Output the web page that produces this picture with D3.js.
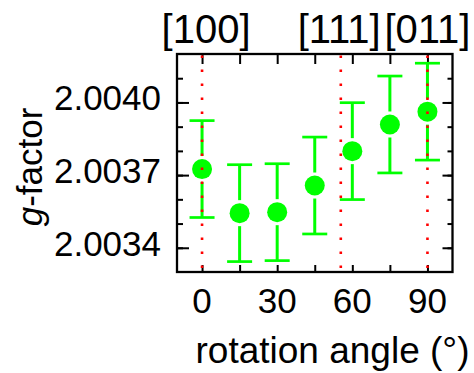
<!DOCTYPE html>
<html>
<head>
<meta charset="utf-8">
<script src="https://cdn.jsdelivr.net/npm/d3@7"></script>
<style>
  html, body { margin: 0; padding: 0; background: #fff; }
  svg { display: block; font-family: "Liberation Sans", Arial, sans-serif; }
</style>
</head>
<body>
<svg id="chart" width="474" height="373"></svg>
<script>
// Rotation angle of the sample (degrees) and measured g-factor with its uncertainty
const angles = [0, 15, 30, 45, 60, 75, 90];
const gValues = [2.003725, 2.003543, 2.003547, 2.003657, 2.003799, 2.003909, 2.003962];
const gErrors = [0.0002, 0.0002, 0.0002, 0.0002, 0.0002, 0.0002, 0.0002];

// Crystal directions marked along the top of the plot
const directionLabels = ["[100]", "[111]", "[011]"];
const directionAngles = [0, 54.74, 90];
const directionLines = [0, 55.4, 90];

// Axis ticks
const xTickValues = [0, 15, 30, 45, 60, 75, 90];
const xTickLabels = ["0", "30", "60", "90"];
const yMajorTicks = [2.0034, 2.0037, 2.0040];
const yMinorTicks = [2.0034, 2.0035, 2.0036, 2.0037, 2.0038, 2.0039, 2.0040, 2.0041];

const svg = d3.select("#chart");
const plotLeft = 177, plotRight = 452.5, plotTop = 54, plotBottom = 272;

const x = d3.scaleLinear().domain([-10, 100]).range([plotLeft, plotRight]);
const y = d3.scaleLinear().domain([2.0033, 2.0042]).range([plotBottom, plotTop]);

const green = "#00ff00";
const fmtY = d3.format(".4f");

// Axes with inward ticks on all four sides
function styleAxis(g) {
  g.select(".domain").remove();
  g.selectAll(".tick line").attr("stroke", "#000").attr("stroke-width", 2);
  g.selectAll(".tick text").remove();
}
svg.append("g").attr("transform", `translate(${plotLeft},0)`)
  .call(d3.axisLeft(y).tickValues(yMinorTicks).tickSize(-6)).call(styleAxis);
svg.append("g").attr("transform", `translate(${plotLeft},0)`)
  .call(d3.axisLeft(y).tickValues(yMajorTicks).tickSize(-12)).call(styleAxis);
svg.append("g").attr("transform", `translate(${plotRight},0)`)
  .call(d3.axisRight(y).tickValues(yMinorTicks).tickSize(-5)).call(styleAxis);
svg.append("g").attr("transform", `translate(${plotRight},0)`)
  .call(d3.axisRight(y).tickValues(yMajorTicks).tickSize(-10)).call(styleAxis);
svg.append("g").attr("transform", `translate(0,${plotBottom})`)
  .call(d3.axisBottom(x).tickValues(xTickValues).tickSize(-7)).call(styleAxis);
svg.append("g").attr("transform", `translate(0,${plotTop})`)
  .call(d3.axisTop(x).tickValues(xTickValues).tickSize(-10)).call(styleAxis);

// Frame
svg.append("rect")
  .attr("x", plotLeft).attr("y", plotTop)
  .attr("width", plotRight - plotLeft).attr("height", plotBottom - plotTop)
  .attr("fill", "none").attr("stroke", "#000").attr("stroke-width", 2.3);

// Tick labels
svg.append("g").selectAll("text").data(yMajorTicks).join("text")
  .attr("x", plotLeft - 16).attr("y", d => y(d) + 8)
  .attr("text-anchor", "end").attr("font-size", 35)
  .text(d => fmtY(d));
svg.append("g").selectAll("text").data(xTickLabels).join("text")
  .attr("x", d => x(+d)).attr("y", 313)
  .attr("text-anchor", "middle").attr("font-size", 35)
  .text(d => d);

// Axis titles
svg.append("text")
  .attr("x", 332.5).attr("y", 363)
  .attr("text-anchor", "middle").attr("font-size", 37)
  .text("rotation angle (°)");
const yTitle = svg.append("text")
  .attr("transform", `translate(42,167) rotate(-90)`)
  .attr("text-anchor", "middle").attr("font-size", 35);
yTitle.append("tspan").attr("font-style", "italic").text("g");
yTitle.append("tspan").text("-factor");

// Direction labels
svg.append("g").selectAll("text").data(directionLabels).join("text")
  .attr("x", (d, i) => x(directionAngles[i]) + (i === 0 ? 4 : 0))
  .attr("y", 43)
  .attr("text-anchor", "middle").attr("font-size", 40)
  .text(d => d);

// Error bars and markers
const r = 10, gap = 3, capHalf = 12.5;
const pts = angles.map((a, i) => ({ a, v: gValues[i], e: gErrors[i] }));
const bars = svg.append("g").attr("stroke", green).attr("stroke-width", 3);
pts.forEach(p => {
  const cx = x(p.a), cy = y(p.v), yt = y(p.v + p.e), yb = y(p.v - p.e);
  bars.append("line").attr("x1", cx).attr("x2", cx).attr("y1", yt).attr("y2", cy - r - gap);
  bars.append("line").attr("x1", cx).attr("x2", cx).attr("y1", cy + r + gap).attr("y2", yb);
  bars.append("line").attr("x1", cx - capHalf).attr("x2", cx + capHalf).attr("y1", yt).attr("y2", yt).attr("stroke-width", 2.7);
  bars.append("line").attr("x1", cx - capHalf).attr("x2", cx + capHalf).attr("y1", yb).attr("y2", yb).attr("stroke-width", 2.7);
});
svg.append("g").selectAll("circle").data(pts).join("circle")
  .attr("cx", d => x(d.a)).attr("cy", d => y(d.v)).attr("r", r)
  .attr("fill", green);

// Dotted reference lines at the crystal directions
svg.append("g").selectAll("line").data(directionLines).join("line")
  .attr("x1", d => x(d)).attr("x2", d => x(d))
  .attr("y1", plotTop + 1.5).attr("y2", plotBottom)
  .attr("stroke", "#ff0000").attr("stroke-width", 2.6)
  .attr("stroke-dasharray", "2.6,11.4");
</script>
</body>
</html>
